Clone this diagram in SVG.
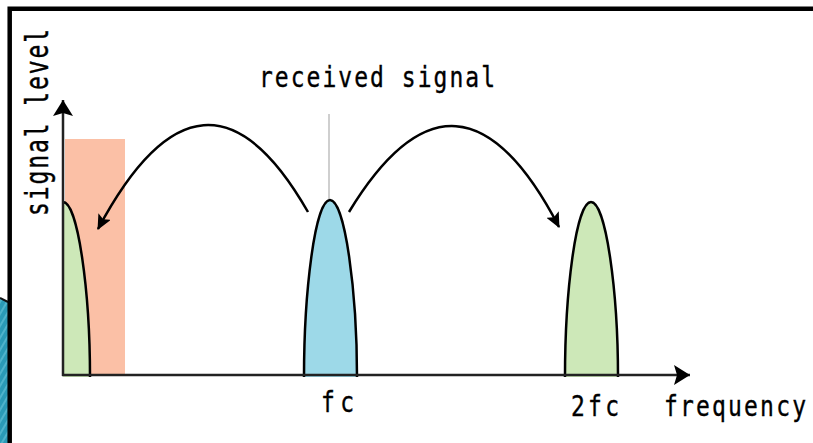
<svg xmlns="http://www.w3.org/2000/svg" width="813" height="443" viewBox="0 0 813 443">
<style>
.lbl{font-family:"DejaVu Sans Mono","Liberation Mono",monospace;font-size:23px;fill:#000;stroke:#000;stroke-width:0.3}
.pk{stroke:#000;stroke-width:2.5;fill:none}
.arc{stroke:#000;stroke-width:2.5;fill:none}
.ax{stroke:#222;stroke-width:2.5;fill:none}
</style>
<defs>
<pattern id="stripes" width="6" height="6" patternUnits="userSpaceOnUse" patternTransform="rotate(30)">
<rect width="6" height="6" fill="#2a9ab6"/>
<rect width="2" height="6" fill="#4fb3cb"/>
</pattern>
<marker id="ah" markerWidth="16" markerHeight="14" refX="14" refY="7" orient="auto" markerUnits="userSpaceOnUse">
<path d="M0,0 L15,7 L0,14 L3,7 Z" fill="#000"/>
</marker>
<marker id="axh" markerWidth="18" markerHeight="22" refX="16" refY="11" orient="auto" markerUnits="userSpaceOnUse">
<path d="M0,1 L16,11 L0,21 L3,11 Z" fill="#000"/>
</marker>
</defs>
<rect width="813" height="443" fill="#fff"/>
<g id="background-shape">
<polygon points="0,298 8,302 8,443 0,443" fill="url(#stripes)"/>
<line x1="0" y1="298" x2="8" y2="302" stroke="#111" stroke-width="2"/>
</g>
<g id="frame">
<path d="M9.7,443 V8.7 H813" stroke="#000" stroke-width="4.5" fill="none"/>
</g>
<g id="baseband-band">
<rect x="65" y="139" width="60" height="236" fill="#fbc0a6"/>
</g>
<g id="carrier-line">
<line x1="329" y1="114" x2="329" y2="375" stroke="#cfcfcf" stroke-width="2"/>
</g>
<g id="peak-baseband">
<path d="M63,202 C78,202 90,292 90,377 L63,377 Z" fill="#cde8b8"/>
<path d="M63,202 C78,202 90,292 90,377" class="pk"/>
</g>
<g id="peak-fc">
<path d="M304,377 C304,292 315,200 330,200 C345,200 357,292 357,377 Z" fill="#9dd9e8"/>
<path d="M304,377 C304,292 315,200 330,200 C345,200 357,292 357,377" class="pk"/>
</g>
<g id="peak-2fc">
<path d="M565,377 C565,292 576,202 591,202 C606,202 618,292 618,377 Z" fill="#cde8b8"/>
<path d="M565,377 C565,292 576,202 591,202 C606,202 618,292 618,377" class="pk"/>
</g>
<g id="axes">
<line x1="63" y1="376" x2="63" y2="100" class="ax" marker-end="url(#axh)"/>
<line x1="62" y1="375" x2="690" y2="375" class="ax" marker-end="url(#axh)"/>
</g>
<g id="connectors">
<path d="M308,212 Q204,30 98,229" class="arc" marker-end="url(#ah)"/>
<path d="M349,212 Q458,33 559,227" class="arc" marker-end="url(#ah)"/>
</g>
<g id="labels">
<text class="lbl" transform="translate(259,87) scale(1,1.25)" textLength="236" lengthAdjust="spacing">received signal</text>
<text class="lbl" transform="translate(321,412) scale(1,1.25)" textLength="33" lengthAdjust="spacing">fc</text>
<text class="lbl" transform="translate(571,416) scale(1,1.25)" textLength="48" lengthAdjust="spacing">2fc</text>
<text class="lbl" transform="translate(664,416) scale(1,1.25)" textLength="142" lengthAdjust="spacing">frequency</text>
<text class="lbl" transform="translate(48,216) rotate(-90) scale(1,1.35)" textLength="187" lengthAdjust="spacing">signal level</text>
</g>
</svg>
